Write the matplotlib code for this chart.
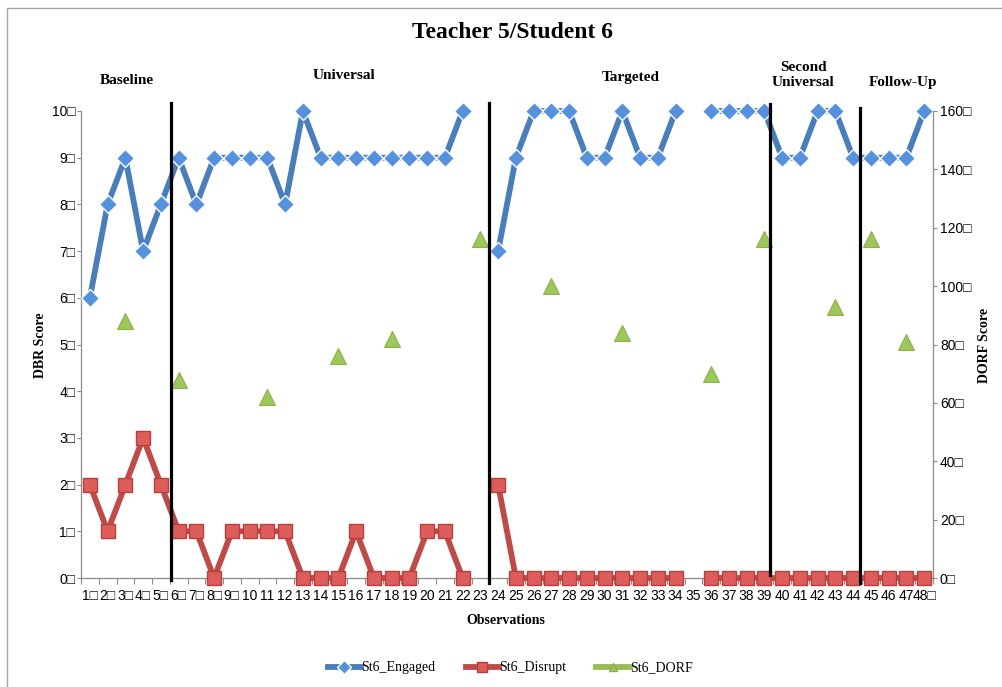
import numpy as np
import matplotlib
matplotlib.use("Agg")
import matplotlib.pyplot as plt
from matplotlib.patches import Rectangle

nan = np.nan

observations = list(range(1, 49))

engaged = [6, 8, 9, 7, 8, 9, 8, 9, 9, 9, 9, 8, 10, 9, 9, 9, 9, 9, 9, 9, 9, 10, nan,
           7, 9, 10, 10, 10, 9, 9, 10, 9, 9, 10, nan,
           10, 10, 10, 10, 9, 9, 10, 10, 9, 9, 9, 9, 10]
disrupt = [2, 1, 2, 3, 2, 1, 1, 0, 1, 1, 1, 1, 0, 0, 0, 1, 0, 0, 0, 1, 1, 0, nan,
           2, 0, 0, 0, 0, 0, 0, 0, 0, 0, 0, nan,
           0, 0, 0, 0, 0, 0, 0, 0, 0, 0, 0, 0, 0]

dorf_obs = [3, 6, 11, 15, 18, 23, 27, 31, 36, 39, 43, 45, 47]
dorf_scores = [88, 68, 62, 76, 82, 116, 100, 84, 70, 116, 93, 116, 81]

dbr_ticks = list(range(0, 11))
dorf_ticks = list(range(0, 161, 20))

phase_names = ["Baseline", "Universal", "Targeted", "Second\nUniversal", "Follow-Up"]
phase_breaks = [5.55, 23.5, 39.3, 44.4]

SERIF = "Liberation Serif"
SANS = "Liberation Sans"
BOX = "\u25a1"

BLUE_LINE = "#4a7ebb"
BLUE_MARK = "#5591dc"
RED_LINE = "#be4b48"
RED_MARK = "#dd5d5a"
GREEN_MARK = "#9dc75a"


def main():
    fig = plt.figure(figsize=(10.02, 6.87), dpi=100)

    # outer chart frame
    fig.patches.append(Rectangle((7 / 1002, -0.05), 1.1, 1 - 8 / 687 + 0.05,
                                 transform=fig.transFigure, fill=False,
                                 edgecolor="#a6a6a6", linewidth=1.0))

    ax = fig.add_axes([81 / 1002, 1 - 578 / 687, 852 / 1002, 467 / 687])
    ax2 = ax.twinx()

    ax.set_xlim(0.5, 48.5)
    ax.set_ylim(0, 10)
    ax2.set_ylim(0, 160)

    ax.plot(observations, engaged, color=BLUE_LINE, linewidth=4.2,
            marker="D", markersize=9, markerfacecolor=BLUE_MARK,
            markeredgecolor="white", markeredgewidth=1.0,
            clip_on=False, zorder=3, label="St6_Engaged")
    ax.plot(observations, disrupt, color=RED_LINE, linewidth=4.2,
            marker="s", markersize=10.5, markerfacecolor=RED_MARK,
            markeredgecolor="#b5403d", markeredgewidth=1.0,
            clip_on=False, zorder=3, label="St6_Disrupt")
    ax2.plot(dorf_obs, dorf_scores, linestyle="none",
             marker="^", markersize=11, markerfacecolor=GREEN_MARK,
             markeredgecolor="#8db04c", markeredgewidth=0.8,
             clip_on=False, zorder=3, label="St6_DORF")

    # phase change lines
    spans = [(-0.004, 1.017), (-0.011, 1.017), (0.006, 1.015), (-0.011, 1.006)]
    for xb, (y0, y1) in zip(phase_breaks, spans):
        ax2.axvline(xb, ymin=y0, ymax=y1, color="black", linewidth=2.3,
                    clip_on=False, zorder=5)

    # phase titles
    phase_x = [3.1, 15.3, 31.5, 41.2, 46.8]
    phase_y = [1.066, 1.075, 1.071, 1.077, 1.06]
    for name, px, py in zip(phase_names, phase_x, phase_y):
        ax.text(px, py, name, transform=ax.get_xaxis_transform(),
                ha="center", va="center", family=SERIF, fontweight="bold",
                fontsize=11, linespacing=1.15)

    # left axis
    ax.set_yticks(dbr_ticks)
    ax.set_yticklabels([f"{v}{BOX}" for v in dbr_ticks], family=SANS, fontsize=10)
    ax.tick_params(axis="y", length=3, width=0.8, color="#8c8c8c", pad=1)

    # right axis
    ax2.set_yticks(dorf_ticks)
    ax2.set_yticklabels([f"{v}{BOX}" for v in dorf_ticks], family=SANS, fontsize=10)
    ax2.tick_params(axis="y", length=3, width=0.8, color="#8c8c8c", pad=2)

    # category axis
    ax.set_xticks(observations)
    xlabels = [f"{i}{BOX}" if (i < 10 or i == 48) else str(i) for i in observations]
    ax.set_xticklabels(xlabels, family=SANS, fontsize=10)
    ax.set_xticks(np.arange(0.5, 49, 1), minor=True)
    ax.tick_params(axis="x", which="major", length=0, pad=8)
    ax.tick_params(axis="x", which="minor", length=4, width=0.8, color="#8c8c8c")

    for a in (ax, ax2):
        a.spines["top"].set_visible(False)
        for s in ("left", "right", "bottom"):
            a.spines[s].set_color("#8c8c8c")
            a.spines[s].set_linewidth(0.9)
    ax.spines["right"].set_visible(False)
    ax2.spines["left"].set_visible(False)
    ax2.spines["bottom"].set_visible(False)

    fig.text(0.511, 1 - 33 / 687, "Teacher 5/Student 6", ha="center", va="center",
             family=SERIF, fontweight="bold", fontsize=17)
    fig.text(506 / 1002, 1 - 621 / 687, "Observations", ha="center", va="center",
             family=SERIF, fontweight="bold", fontsize=10)
    fig.text(40 / 1002, 1 - 345 / 687, "DBR Score", ha="center", va="center",
             rotation=90, family=SERIF, fontweight="bold", fontsize=10)
    fig.text(985 / 1002, 1 - 345 / 687, "DORF Score", ha="center", va="center",
             rotation=90, family=SERIF, fontweight="bold", fontsize=10)

    # legend (handles show line + marker)
    h1, l1 = ax.get_legend_handles_labels()
    h3 = plt.Line2D([], [], color="#9bbb59", linewidth=4.2, marker="^",
                    markersize=8, markerfacecolor=GREEN_MARK,
                    markeredgecolor="#8db04c")
    fig.legend(h1 + [h3], l1 + ["St6_DORF"], loc="center",
               bbox_to_anchor=(0.509, 1 - 668 / 687), ncol=3, frameon=False,
               prop={"family": SERIF, "size": 10}, handlelength=2.4,
               handletextpad=0.0, columnspacing=2.2, markerscale=0.75)

    fig.savefig("out.png", dpi=100)
    plt.close(fig)


if __name__ == "__main__":
    main()
